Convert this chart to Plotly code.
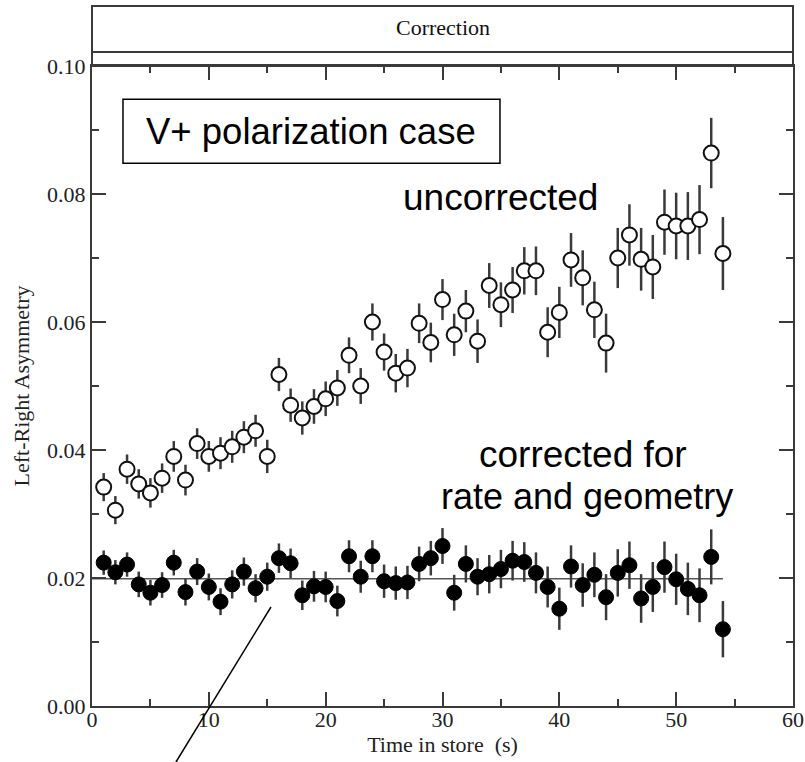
import plotly.graph_objects as go

# Time in store (s)
time_s = list(range(1, 55))

# Left-right asymmetry before correction
asym_uncorrected = [0.0342, 0.0306, 0.0370, 0.0347, 0.0333, 0.0356, 0.0390, 0.0353, 0.0410, 0.0390,
                    0.0395, 0.0405, 0.0420, 0.0430, 0.0390, 0.0518, 0.0470, 0.0450, 0.0468, 0.0480,
                    0.0497, 0.0548, 0.0500, 0.0600, 0.0553, 0.0520, 0.0528, 0.0598, 0.0568, 0.0635,
                    0.0580, 0.0617, 0.0570, 0.0657, 0.0627, 0.0650, 0.0680, 0.0680, 0.0584, 0.0615,
                    0.0697, 0.0669, 0.0619, 0.0567, 0.0700, 0.0736, 0.0698, 0.0686, 0.0756, 0.0750,
                    0.0750, 0.0760, 0.0864, 0.0707]
err_uncorrected = [0.0022, 0.0022, 0.0023, 0.0023, 0.0023, 0.0023, 0.0024, 0.0024, 0.0024, 0.0024,
                   0.0025, 0.0025, 0.0025, 0.0025, 0.0026, 0.0026, 0.0026, 0.0026, 0.0027, 0.0027,
                   0.0028, 0.0028, 0.0028, 0.0029, 0.0029, 0.0030, 0.0030, 0.0031, 0.0031, 0.0032,
                   0.0033, 0.0033, 0.0034, 0.0035, 0.0035, 0.0036, 0.0037, 0.0038, 0.0039, 0.0040,
                   0.0042, 0.0043, 0.0044, 0.0046, 0.0047, 0.0048, 0.0049, 0.0050, 0.0051, 0.0052,
                   0.0053, 0.0054, 0.0055, 0.0057]

# Left-right asymmetry corrected for rate and geometry
asym_corrected = [0.0224, 0.0209, 0.0221, 0.0190, 0.0177, 0.0189, 0.0224, 0.0178, 0.0210, 0.0186,
                  0.0163, 0.0190, 0.0210, 0.0184, 0.0202, 0.0231, 0.0223, 0.0173, 0.0187, 0.0186,
                  0.0164, 0.0234, 0.0202, 0.0234, 0.0195, 0.0192, 0.0193, 0.0222, 0.0231, 0.0250,
                  0.0177, 0.0222, 0.0202, 0.0206, 0.0214, 0.0227, 0.0225, 0.0208, 0.0186, 0.0152,
                  0.0218, 0.0189, 0.0205, 0.0170, 0.0208, 0.0220, 0.0168, 0.0186, 0.0217, 0.0198,
                  0.0183, 0.0173, 0.0233, 0.0120]
err_corrected = [0.0019, 0.0019, 0.0019, 0.0020, 0.0020, 0.0020, 0.0020, 0.0021, 0.0021, 0.0021,
                 0.0021, 0.0022, 0.0022, 0.0022, 0.0022, 0.0023, 0.0023, 0.0023, 0.0024, 0.0024,
                 0.0024, 0.0025, 0.0025, 0.0025, 0.0026, 0.0026, 0.0026, 0.0027, 0.0027, 0.0028,
                 0.0028, 0.0029, 0.0029, 0.0030, 0.0030, 0.0031, 0.0031, 0.0032, 0.0032, 0.0033,
                 0.0033, 0.0034, 0.0035, 0.0036, 0.0037, 0.0037, 0.0038, 0.0039, 0.0040, 0.0040,
                 0.0041, 0.0042, 0.0043, 0.0044]

# Constant fit to the corrected asymmetry
fit_x = [0, 54]
fit_value = 0.0199

x_ticks = [0, 10, 20, 30, 40, 50, 60]
y_ticks = [0.00, 0.02, 0.04, 0.06, 0.08, 0.10]
y_tick_labels = ["0.00", "0.02", "0.04", "0.06", "0.08", "0.10"]

AXIS = "#3a3a3a"
SERIF = "Liberation Serif, Times New Roman, serif"
SANS = "Liberation Sans, Arial, sans-serif"

fig = go.Figure()

fig.add_trace(go.Scatter(
    x=fit_x, y=[fit_value] * len(fit_x), mode="lines",
    line=dict(color="#555555", width=1.5), hoverinfo="skip", showlegend=False,
))

fig.add_trace(go.Scatter(
    x=time_s, y=asym_uncorrected, mode="markers",
    error_y=dict(type="data", array=err_uncorrected, color=AXIS, thickness=2.5, width=0),
    marker=dict(symbol="circle", size=15, color="white", line=dict(color="#111111", width=2)),
    showlegend=False,
))

fig.add_trace(go.Scatter(
    x=time_s, y=asym_corrected, mode="markers",
    error_y=dict(type="data", array=err_corrected, color=AXIS, thickness=2.5, width=0),
    marker=dict(symbol="circle", size=15, color="black", line=dict(color="black", width=1)),
    showlegend=False,
))

# Header strip above the plot with its title, the label box and the pointer line
shapes = [
    dict(type="rect", xref="paper", yref="paper", x0=0, x1=1, y0=1.0, y1=1.09375,
         line=dict(color=AXIS, width=2), fillcolor="rgba(0,0,0,0)", layer="above"),
    dict(type="line", xref="paper", yref="paper", x0=0, x1=1, y0=1.021875, y1=1.021875,
         line=dict(color=AXIS, width=2)),
    dict(type="rect", xref="paper", yref="paper", x0=0.0442, x1=0.582, y0=0.848, y1=0.948,
         line=dict(color="black", width=1.5), fillcolor="white"),
    dict(type="line", xref="paper", yref="paper", x0=0.2553, y0=0.1547, x1=0.1198, y1=-0.0875,
         line=dict(color="black", width=1.5)),
]

annotations = [
    dict(text="Correction", xref="paper", yref="paper", x=0.5, y=1.0609, showarrow=False,
         font=dict(family=SERIF, size=22, color="#111111"), xanchor="center", yanchor="middle"),
    dict(text="V+ polarization case", xref="paper", yref="paper", x=0.313, y=0.898, showarrow=False,
         font=dict(family=SANS, size=36.5, color="black"), xanchor="center", yanchor="middle"),
    dict(text="uncorrected", xref="x", yref="y", x=35.0, y=0.0794, showarrow=False,
         font=dict(family=SANS, size=37, color="black"), xanchor="center", yanchor="middle"),
    dict(text="corrected for", xref="x", yref="y", x=42.0, y=0.0393, showarrow=False,
         font=dict(family=SANS, size=37, color="black"), xanchor="center", yanchor="middle"),
    dict(text="rate and geometry", xref="x", yref="y", x=42.4, y=0.0328, showarrow=False,
         font=dict(family=SANS, size=36, color="black"), xanchor="center", yanchor="middle"),
]

fig.update_layout(
    width=805, height=762,
    margin=dict(l=92, r=12, t=66, b=56),
    paper_bgcolor="white", plot_bgcolor="white",
    shapes=shapes, annotations=annotations,
    xaxis=dict(
        range=[0, 60], tickvals=x_ticks, ticks="inside", ticklen=14, tickwidth=2, tickcolor=AXIS,
        minor=dict(dtick=5, tick0=0, ticks="inside", ticklen=7, tickwidth=2, tickcolor=AXIS),
        showline=True, linewidth=2, linecolor=AXIS, mirror="ticks", showgrid=False, zeroline=False,
        automargin=False, ticklabelstandoff=-7,
        tickfont=dict(family=SERIF, size=22, color="#222222"),
        title=dict(text="Time in store  (s)", font=dict(family=SERIF, size=22, color="#222222"), standoff=4),
    ),
    yaxis=dict(
        range=[0, 0.1], tickvals=y_ticks, ticktext=y_tick_labels, ticks="inside", ticklen=14,
        tickwidth=2, tickcolor=AXIS,
        minor=dict(dtick=0.01, tick0=0, ticks="inside", ticklen=7, tickwidth=2, tickcolor=AXIS),
        showline=True, linewidth=2, linecolor=AXIS, mirror="ticks", showgrid=False, zeroline=False,
        automargin=False,
        tickfont=dict(family=SERIF, size=22, color="#222222"),
        title=dict(text="Left-Right Asymmetry", font=dict(family=SERIF, size=22, color="#222222"), standoff=11),
    ),
)

fig.write_html("out.html")
